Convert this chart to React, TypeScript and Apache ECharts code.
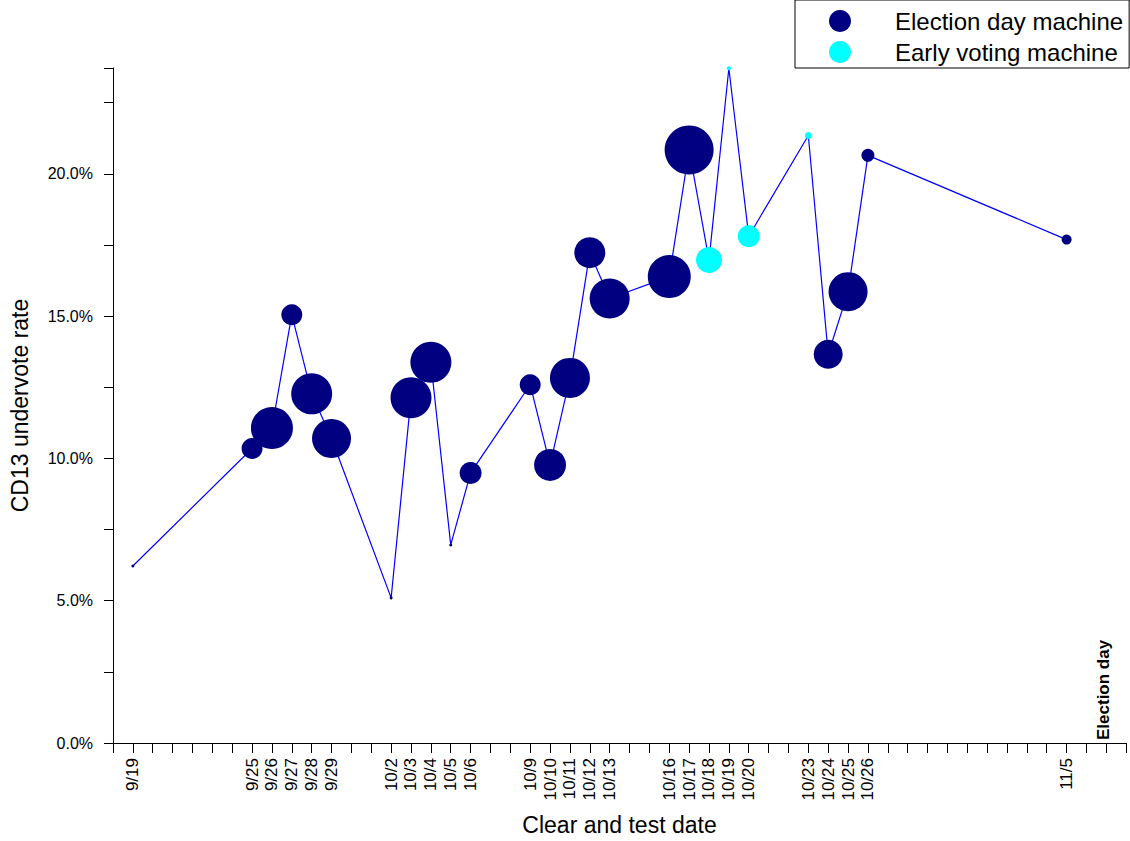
import React, { useEffect, useRef } from 'react';
import * as echarts from 'echarts';

// Clear-and-test dates (2006), undervote rate (%), marker weight, machine type
const dates = ['9/19', '9/25', '9/26', '9/27', '9/28', '9/29', '10/2', '10/3', '10/4', '10/5', '10/6', '10/9', '10/10', '10/11', '10/12', '10/13', '10/16', '10/17', '10/18', '10/19', '10/20', '10/23', '10/24', '10/25', '10/26', '11/5'];
const rates = [6.22, 10.35, 11.07, 15.05, 12.27, 10.7, 5.1, 12.13, 13.38, 6.96, 9.49, 12.59, 9.77, 12.83, 17.23, 15.62, 16.39, 20.84, 16.97, 23.71, 17.81, 21.35, 13.66, 15.86, 20.65, 17.69];
const weights = [3, 21, 42, 21, 41, 39, 3, 41, 41, 3, 22, 21, 32, 40, 31, 40, 43, 49, 26, 4, 22, 7, 29, 39, 13, 10];
const machine = ['E', 'E', 'E', 'E', 'E', 'E', 'E', 'E', 'E', 'E', 'E', 'E', 'E', 'E', 'E', 'E', 'E', 'E', 'V', 'V', 'V', 'V', 'E', 'E', 'E', 'E'];

const seriesNames = { E: 'Election day machine', V: 'Early voting machine' };
const axisStart = '9/18';
const electionDay = '11/7';
const yTicks = [0, 5, 10, 15, 20];

const FONT = '"Liberation Sans", Arial, Helvetica, sans-serif';

function dayIndex(s: string): number {
  const [m, d] = s.split('/').map(Number);
  const [m0, d0] = axisStart.split('/').map(Number);
  return Math.round((Date.UTC(2006, m - 1, d) - Date.UTC(2006, m0 - 1, d0)) / 86400000);
}

export default function App() {
  const ref = useRef<HTMLDivElement>(null);
  useEffect(() => {
    if (!ref.current) return;
    const chart = echarts.init(ref.current, undefined, { renderer: 'svg' });
    const labelMap: Record<number, string> = {};
    dates.forEach((d) => (labelMap[dayIndex(d)] = d));
    const pts = dates.map((d, i) => [dayIndex(d), rates[i], weights[i]]);
    const eDay = dayIndex(electionDay);

    chart.setOption({
      animation: false,
      backgroundColor: '#fff',
      textStyle: { fontFamily: FONT },
      grid: { left: 113, top: 68, width: 1013, height: 682, containLabel: false },
      legend: {
        data: [seriesNames.E, seriesNames.V],
        orient: 'vertical',
        left: 795,
        top: 0,
        icon: 'circle',
        itemWidth: 22,
        itemHeight: 22,
        itemGap: 7,
        padding: [9, 6, 4, 34],
        borderColor: '#000',
        borderWidth: 1,
        textStyle: { fontFamily: FONT, fontSize: 24, color: '#000', padding: [0, 0, 0, 39] },
      },
      xAxis: {
        type: 'value',
        min: 0,
        max: 50.99,
        interval: 1,
        name: 'Clear and test date',
        nameLocation: 'middle',
        nameGap: 70,
        nameTextStyle: { fontFamily: FONT, fontSize: 23, color: '#000' },
        axisLine: { show: true, lineStyle: { color: '#000', width: 1 } },
        axisTick: { show: true, length: 10, lineStyle: { color: '#000' } },
        splitLine: { show: false },
        axisLabel: {
          rotate: 90,
          margin: 15,
          fontFamily: FONT,
          fontSize: 17,
          color: '#000',
          formatter: (v: number) => labelMap[Math.round(v)] || '',
        },
      },
      yAxis: {
        type: 'value',
        min: 0,
        max: 23.72,
        interval: 2.5,
        name: 'CD13 undervote rate',
        nameLocation: 'middle',
        nameGap: 82,
        nameRotate: 90,
        nameTextStyle: { fontFamily: FONT, fontSize: 23, color: '#000' },
        axisLine: { show: true, lineStyle: { color: '#000', width: 1 } },
        axisTick: { show: true, length: 9, lineStyle: { color: '#000' } },
        splitLine: { show: false },
        axisLabel: {
          margin: 20,
          fontFamily: FONT,
          fontSize: 16,
          color: '#000',
          formatter: (v: number) => (yTicks.includes(Math.round(v * 100) / 100) ? v.toFixed(1) + '%' : ''),
        },
      },
      series: [
        {
          name: 'line',
          type: 'line',
          data: pts.map((p) => [p[0], p[1]]),
          showSymbol: false,
          symbol: 'none',
          silent: true,
          lineStyle: { color: '#0000ff', width: 1.2 },
          z: 1,
        },
        {
          name: seriesNames.E,
          type: 'scatter',
          data: pts.filter((_, i) => machine[i] === 'E'),
          symbolSize: (v: number[]) => v[2],
          itemStyle: { color: '#000080', opacity: 1 },
          z: 3,
        },
        {
          name: seriesNames.V,
          type: 'scatter',
          data: pts.filter((_, i) => machine[i] === 'V'),
          symbolSize: (v: number[]) => v[2],
          itemStyle: { color: '#00ffff', opacity: 1 },
          z: 3,
        },
      ],
    });

    const p = chart.convertToPixel({ gridIndex: 0 }, [eDay, 0]) as number[];
    chart.setOption({
      graphic: [
        {
          type: 'text',
          x: p[0] - 3,
          y: p[1] - 3,
          rotation: Math.PI / 2,
          style: {
            text: 'Election day',
            fontFamily: FONT,
            fontSize: 17,
            fontWeight: 'bold',
            fill: '#000',
            align: 'left',
            verticalAlign: 'middle',
          },
        },
      ],
    });

    return () => chart.dispose();
  }, []);
  return <div ref={ref} style={{ position: 'absolute', left: 0, top: 0, width: 1130, height: 841 }} />;
}
